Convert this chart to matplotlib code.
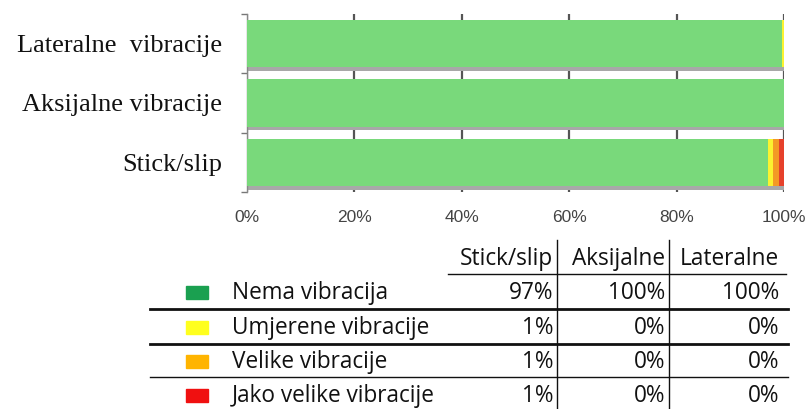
import numpy as np
import matplotlib.pyplot as plt
from matplotlib.lines import Line2D

# kategorije (odozdo prema gore)
kategorije = ["Stick/slip", "Aksijalne vibracije", "Lateralne  vibracije"]
stupci = ["Stick/slip", "Aksijalne", "Lateralne"]
razine = ["Nema vibracija", "Umjerene vibracije", "Velike vibracije", "Jako velike vibracije"]

# udjeli po razini (%) za Stick/slip, Aksijalne, Lateralne
nema = [97.0, 100.0, 99.7]
umjerene = [1.0, 0.0, 0.3]
velike = [1.0, 0.0, 0.0]
jako = [1.0, 0.0, 0.0]

boje_traka = ["#79d97b", "#fbf230", "#f39a25", "#e6412b"]
boje_legende = ["#1aa050", "#ffff1e", "#ffb400", "#f01010"]

W, H = 805, 409
fig = plt.figure(figsize=(W / 100, H / 100), dpi=100)
ax = fig.add_axes([247 / W, 1 - 192 / H, (784 - 247) / W, (192 - 14) / H])

def px(x, y):
    return x / W, 1 - y / H

y = np.arange(len(kategorije))
serije = [nema, umjerene, velike, jako]
lijevo = np.zeros(len(kategorije))
visina = 0.8
# sjena ispod traka
ax.barh(y - 0.06, 100, height=visina, color="#a8a8a8", zorder=2)
for vrijednosti, boja in zip(serije, boje_traka):
    ax.barh(y, vrijednosti, left=lijevo, height=visina, color=boja, zorder=3)
    lijevo += np.array(vrijednosti)

ax.set_xlim(0, 100)
ax.set_ylim(-0.5, 2.5)
ax.set_xticks(np.arange(0, 101, 20))
ax.set_xticklabels([f"{v}%" for v in range(0, 101, 20)], fontsize=12.5,
                   color="#444444", family="Liberation Sans")
ax.tick_params(axis="x", length=0, pad=13)
ax.xaxis.grid(True, color="#555555", linewidth=1.6, zorder=1)
ax.set_axisbelow(True)
ax.set_yticks(y)
ax.set_yticklabels(kategorije, family="Liberation Serif", fontsize=19, color="#111111")
ax.set_yticks([-0.5, 0.5, 1.5, 2.5], minor=True)
ax.tick_params(axis="y", which="major", length=0, pad=18)
ax.tick_params(axis="y", which="minor", length=4, color="#777777", width=1)
for s in ["top", "right", "bottom"]:
    ax.spines[s].set_visible(False)
ax.spines["left"].set_color("#888888")
ax.spines["left"].set_linewidth(1)

# tablica ispod grafa
fnt = dict(family="Open Sans", fontsize=16.3, color="#111111")
desni_rub = [553, 665, 779]
for naslov, xr in zip(stupci, desni_rub):
    fig.text(*px(xr, 259), naslov, ha="right", va="center", **fnt)

redovi_y = [293, 328, 362, 396]
for i, (razina, yy) in enumerate(zip(razine, redovi_y)):
    fig.patches.append(plt.Rectangle(px(186, yy + 6), 22 / W, 13 / H,
                                     transform=fig.transFigure,
                                     color=boje_legende[i], figure=fig))
    fig.text(*px(232, yy), razina, ha="left", va="center", **fnt)
    for j, xr in enumerate(desni_rub):
        fig.text(*px(xr, yy), f"{round(serije[i][j])}%", ha="right", va="center", **fnt)

def linija(x0, x1, y0, y1, lw):
    a, b = px(x0, y0)
    c, d = px(x1, y1)
    fig.add_artist(Line2D([a, c], [b, d], color="#111111", linewidth=lw,
                          transform=fig.transFigure))

linija(448, 786, 274, 274, 1)
linija(150, 788, 309, 309, 2)
linija(150, 788, 344, 344, 2)
linija(150, 788, 377, 377, 1)
linija(557, 557, 240, 409, 1)
linija(669, 669, 240, 409, 1)

fig.savefig("out.png", dpi=100, facecolor="white")
